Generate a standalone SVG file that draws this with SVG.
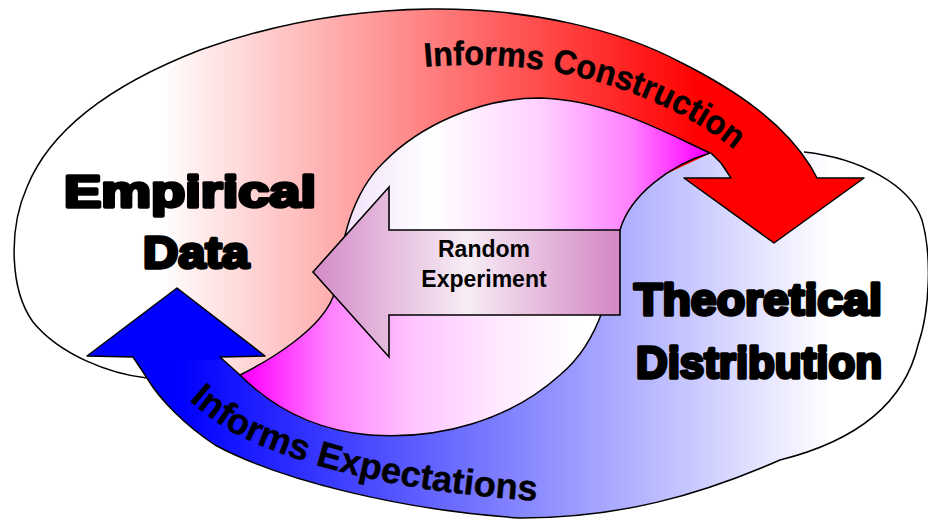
<svg xmlns="http://www.w3.org/2000/svg" width="928" height="520" viewBox="0 0 928 520">
<style>
.ol{fill:none;stroke:#000;stroke-width:1.5;stroke-linejoin:round}
.big{font-family:"Liberation Sans",Arial,sans-serif;font-weight:bold;font-size:44px;fill:#000;stroke:#000;stroke-width:3.4;stroke-linejoin:round}
.arc{font-family:"Liberation Sans",Arial,sans-serif;font-weight:bold;fill:#000;stroke:#000;stroke-width:0.4}
.mid{font-family:"Liberation Sans",Arial,sans-serif;font-weight:bold;font-size:23px;fill:#000;text-anchor:middle}
</style>
<defs>
<linearGradient id="gRed" gradientUnits="userSpaceOnUse" x1="160" y1="0" x2="700" y2="0">
<stop offset="0" stop-color="#ffffff"/><stop offset="1" stop-color="#ff0000"/>
</linearGradient>
<linearGradient id="gBlue" gradientUnits="userSpaceOnUse" x1="180" y1="0" x2="830" y2="0">
<stop offset="0" stop-color="#0000ff"/><stop offset="1" stop-color="#ffffff"/>
</linearGradient>
<linearGradient id="gTop" gradientUnits="userSpaceOnUse" x1="340" y1="0" x2="705" y2="0">
<stop offset="0" stop-color="#f1e0fb"/><stop offset="0.25" stop-color="#ffffff"/><stop offset="0.55" stop-color="#ffd0ff"/><stop offset="0.8" stop-color="#ff80ff"/><stop offset="1" stop-color="#ff00ff"/>
</linearGradient>
<linearGradient id="gBot" gradientUnits="userSpaceOnUse" x1="245" y1="0" x2="580" y2="0">
<stop offset="0" stop-color="#ff00ff"/><stop offset="0.25" stop-color="#ff80ff"/><stop offset="0.5" stop-color="#ffc4ff"/><stop offset="0.75" stop-color="#ffe8ff"/><stop offset="1" stop-color="#ffffff"/>
</linearGradient>
<linearGradient id="gRE" gradientUnits="userSpaceOnUse" x1="313" y1="0" x2="620" y2="0">
<stop offset="0" stop-color="#d38bc7"/><stop offset="0.5" stop-color="#f7edf5"/><stop offset="1" stop-color="#d487c4"/>
</linearGradient>
<clipPath id="topHalf"><polygon points="320,0 928,0 928,262 620,265 320,290"/></clipPath>
<path id="inner" d="M240,375 C270,360 320,330 333,297 C340,260 345,200 383,163 C420,125 480,98 540,98 C610,100 670,135 710,153 C670,165 630,195 620,230 C612,285 602,340 560,375 C510,420 440,440 370,435 C310,430 270,405 240,375 Z"/>
<path id="pathTop" d="M 400,70 A 360 265 0 0 1 770,183"/>
<path id="pathBot" d="M 165,375 C 180,395 205,415 232,432 C 295,465 405,495 560,502"/>
</defs>

<g id="regions">
<path fill="url(#gBlue)" d="M711,153 L721,163 L731,178 L817,178 L811,167 L804,152 C860,158 910,185 922,220 C932,255 930,310 918,345 C905,400 860,440 780,460 C700,495 620,518 520,518 C400,510 280,480 215,445 C185,425 160,400 147,378 L133,357 L220,357 L240,375 Z"/>
<path fill="url(#gRed)" d="M711,153 L240,375 L220,357 L133,357 L147,378 C110,374 60,355 33,322 C10,290 8,230 27,187 C50,130 110,85 200,50 C270,25 350,10 430,9 C530,8 620,30 680,62 C740,92 785,125 811,167 L817,178 L731,178 L721,163 Z"/>
<use href="#inner" fill="url(#gBot)"/>
<use href="#inner" fill="url(#gTop)" clip-path="url(#topHalf)"/>
</g>

<g id="outlines">
<path class="ol" d="M811,167 C785,125 740,92 680,62 C620,30 530,8 430,9 C350,10 270,25 200,50 C110,85 50,130 27,187 C8,230 10,290 33,322 C60,355 110,374 147,378"/>
<path class="ol" d="M804,152 C860,158 910,185 922,220 C932,255 930,310 918,345 C905,400 860,440 780,460 C700,495 620,518 520,518 C400,510 280,480 215,445 C185,425 160,400 147,378"/>
<use href="#inner" class="ol" stroke-width="1.3"/>
</g>

<g id="connectors">
<g id="informs-construction">
<polygon fill="#ff0000" points="684,178 731,178 729,175 815,175 817,178 864,178 774,243"/>
<path class="ol" d="M711,153 L721,163 L731,178 L684,178 L774,243 L864,178 L817,178 L811,167"/>
<text class="arc" font-size="34"><textPath href="#pathTop" startOffset="25" textLength="328" lengthAdjust="spacingAndGlyphs">Informs Construction</textPath></text>
</g>
<g id="informs-expectations">
<polygon fill="#0000ff" points="87,356 177,288 265,356 220,357 223,360 135,360 133,357"/>
<path class="ol" d="M147,378 L133,357 L87,356 L177,288 L265,356 L220,357 L240,375"/>
<text class="arc" font-size="36"><textPath href="#pathBot" startOffset="35" textLength="368" lengthAdjust="spacingAndGlyphs">Informs Expectations</textPath></text>
</g>
<g id="random-experiment">
<polygon fill="url(#gRE)" stroke="#000" stroke-width="1.6" stroke-linejoin="miter" points="313,272 389,187 389,230 620,230 620,315 389,315 389,357"/>
<text class="mid" x="484" y="257">Random</text>
<text class="mid" x="484" y="287">Experiment</text>
</g>
</g>

<g id="node-empirical-data">
<text class="big" x="64" y="207" textLength="252" lengthAdjust="spacingAndGlyphs">Empirical</text>
<text class="big" x="143" y="268" textLength="106" lengthAdjust="spacingAndGlyphs">Data</text>
</g>
<g id="node-theoretical-distribution">
<text class="big" x="634" y="315" textLength="248" lengthAdjust="spacingAndGlyphs">Theoretical</text>
<text class="big" x="636" y="378" textLength="246" lengthAdjust="spacingAndGlyphs">Distribution</text>
</g>
</svg>
